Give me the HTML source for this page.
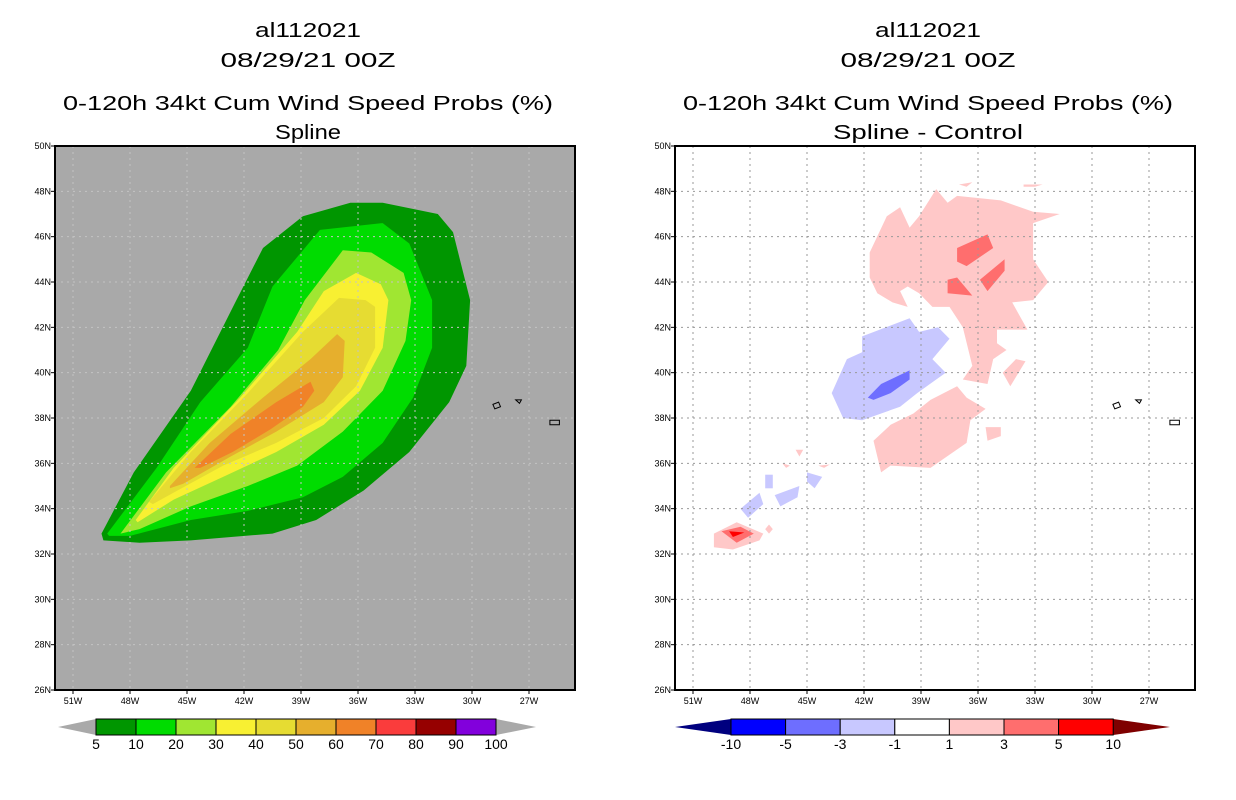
<!DOCTYPE html>
<html><head><meta charset="utf-8"><style>
html,body{margin:0;padding:0;background:#fff}
svg{display:block;font-family:"Liberation Sans",sans-serif}
</style></head><body>
<svg id="c" width="1236" height="800" viewBox="0 0 1236 800"></svg>
<script>
// ---- data (lon, lat in degrees) ----
const lonTicks=[-51,-48,-45,-42,-39,-36,-33,-30,-27];
const latTicks=[26,28,30,32,34,36,38,40,42,44,46,48,50];
const probLevels=["5","10","20","30","40","50","60","70","80","90","100"];
const probColors=["#009600","#00dc00","#a0e632","#f8f032","#e6dc32","#e6af2d","#f08228","#fa3c3c","#960000","#8200dc"];
const diffLevels=["-10","-5","-3","-1","1","3","5","10"];
const diffColors=["#0000ff","#6e6eff","#c8c8ff","#ffffff","#ffc8c8","#ff6e6e","#ff0000"];
const prob5=[[-49.5,32.9],[-47.8,35.6],[-44.8,39.2],[-42.4,43.2],[-41.0,45.5],[-38.9,46.9],[-36.4,47.5],[-34.7,47.5],[-31.8,47.0],[-31.0,46.2],[-30.1,43.2],[-30.3,40.3],[-31.2,38.7],[-33.3,36.5],[-35.7,34.8],[-38.2,33.5],[-40.5,32.9],[-44.8,32.6],[-47.5,32.5],[-49.4,32.6]];
const prob10=[[-49.2,32.9],[-46.6,35.8],[-44.3,38.7],[-41.8,41.1],[-40.5,43.8],[-38.0,46.3],[-34.7,46.6],[-33.3,45.7],[-32.1,43.2],[-32.1,41.1],[-33.1,38.9],[-34.7,36.9],[-36.8,35.4],[-38.9,34.5],[-41.8,33.9],[-44.8,33.5],[-48.0,32.8],[-49.1,32.8]];
const prob20=[[-48.5,32.9],[-46.1,35.6],[-42.7,38.5],[-40.2,41.0],[-38.8,43.2],[-36.8,45.4],[-35.3,45.3],[-33.6,44.4],[-33.2,43.2],[-33.5,41.4],[-34.7,39.2],[-36.8,37.4],[-39.2,35.9],[-41.8,35.0],[-44.8,34.1],[-47.5,33.1]];
const prob30=[[-47.7,33.5],[-45.7,35.8],[-42.2,38.9],[-39.2,41.8],[-37.8,43.6],[-36.1,44.4],[-34.8,43.9],[-34.4,43.2],[-34.7,41.1],[-35.9,39.2],[-37.8,37.7],[-40.3,36.5],[-43.1,35.4],[-45.7,34.4],[-47.6,33.4]];
const prob40=[[-47.0,34.3],[-44.8,36.5],[-41.8,39.1],[-38.9,41.8],[-37.0,43.3],[-35.6,43.2],[-35.1,42.9],[-35.1,41.1],[-36.1,39.4],[-37.8,38.0],[-40.3,36.9],[-43.1,35.9],[-45.5,34.8],[-46.8,34.2]];
const prob50=[[-45.9,35.0],[-43.8,36.9],[-41.0,38.9],[-38.5,40.6],[-37.1,41.7],[-36.7,41.4],[-36.8,39.8],[-37.8,38.7],[-40.3,37.4],[-42.7,36.3],[-45.2,35.1],[-45.9,34.9]];
const prob60=[[-44.6,35.8],[-42.7,37.3],[-40.3,38.7],[-38.5,39.6],[-38.3,39.2],[-38.9,38.5],[-40.6,37.5],[-42.6,36.5],[-44.3,35.8]];
const pinkNorth=[[-41.7,45.3],[-40.8,46.9],[-40.1,47.3],[-39.6,46.4],[-39.1,46.9],[-38.2,48.1],[-37.6,47.5],[-37.1,47.8],[-34.8,47.6],[-33.1,47.1],[-31.7,47.0],[-33.1,46.6],[-33.1,45.0],[-32.3,44.0],[-33.1,43.2],[-34.2,43.1],[-33.4,41.9],[-35.0,41.9],[-35.0,41.3],[-34.5,41.0],[-35.2,40.6],[-35.5,39.5],[-36.8,39.7],[-36.3,40.3],[-36.8,42.0],[-37.5,42.9],[-38.4,42.9],[-39.1,43.5],[-39.7,43.8],[-40.1,43.6],[-39.7,42.9],[-40.5,43.1],[-41.3,43.5],[-41.7,44.2]];
const pinkSouth=[[-41.5,37.0],[-40.6,37.7],[-39.4,38.2],[-38.5,38.8],[-37.1,39.4],[-36.6,38.9],[-35.6,38.4],[-36.4,37.9],[-36.6,36.9],[-38.5,35.8],[-40.6,35.9],[-41.1,35.6],[-41.3,36.3]];
const pinkSmall1=[[-34.7,40.0],[-34.0,40.6],[-33.5,40.5],[-34.3,39.4]];
const pinkSmall2=[[-35.6,37.6],[-34.8,37.6],[-34.8,37.2],[-35.5,37.0]];
const pinkSmall3=[[-37.0,48.3],[-36.3,48.4],[-36.6,48.2]];
const pinkSmall4=[[-33.6,48.3],[-32.6,48.3],[-33.0,48.2],[-33.6,48.2]];
const pinkSW=[[-49.9,32.9],[-48.7,33.4],[-47.3,32.9],[-47.5,32.6],[-48.9,32.2],[-49.9,32.3]];
const redA=[[-37.1,45.5],[-35.5,46.1],[-35.2,45.5],[-36.6,44.7],[-37.1,44.9]];
const redB=[[-37.6,44.1],[-37.1,44.2],[-36.3,43.4],[-37.6,43.5]];
const redC=[[-35.9,44.1],[-34.6,45.0],[-34.6,44.5],[-35.5,43.6]];
const redSW=[[-49.5,33.0],[-48.5,33.2],[-47.8,32.9],[-48.7,32.5]];
const brightSW=[[-49.1,33.0],[-48.3,32.95],[-48.9,32.75]];
const blueMain=[[-42.1,41.6],[-39.6,42.4],[-39.1,41.8],[-38.1,42.0],[-37.5,41.5],[-38.4,40.6],[-37.7,40.0],[-39.2,39.1],[-40.1,38.5],[-42.1,37.9],[-43.1,38.0],[-43.7,39.1],[-42.9,40.6],[-42.1,40.9]];
const blueDark=[[-41.8,38.9],[-41.1,39.5],[-39.6,40.1],[-39.6,39.7],[-40.6,39.1],[-41.5,38.8]];
const blueS1=[[-45.0,35.6],[-44.2,35.4],[-44.6,34.9],[-45.0,35.2]];
const blueS2=[[-46.7,34.6],[-45.4,35.0],[-45.5,34.5],[-46.4,34.1]];
const blueS3=[[-47.2,35.5],[-46.8,35.5],[-46.8,34.9],[-47.2,34.9]];
const blueS4=[[-48.5,34.0],[-47.5,34.7],[-47.3,34.2],[-48.1,33.6]];
const pinkTiny=[[[-45.6,36.6],[-45.2,36.6],[-45.4,36.3]],[[-46.3,36.0],[-45.9,35.9],[-46.1,35.8]],[[-44.4,35.9],[-43.8,35.95],[-44.1,35.8]],[[-47.0,33.3],[-46.8,33.1],[-47.0,32.9],[-47.2,33.1]]];
const islands=[[[-28.9,38.6],[-28.6,38.7],[-28.5,38.5],[-28.8,38.4]],[[-27.7,38.8],[-27.4,38.8],[-27.5,38.65]],[[-25.9,37.9],[-25.4,37.9],[-25.4,37.7],[-25.9,37.7]]];

const NS="http://www.w3.org/2000/svg";
const svg=document.getElementById('c');
function el(tag,attrs,parent){const e=document.createElementNS(NS,tag);for(const k in attrs)e.setAttribute(k,attrs[k]);(parent||svg).appendChild(e);return e;}
function txt(s,x,y,size,anchor,parent){const t=el('text',{x:x,y:y,'font-size':size,'text-anchor':anchor||'middle',fill:'#000'},parent);t.textContent=s;return t;}
function wtxt(s,x,y,size,len,parent){const t=txt(s,x,y,size,'middle',parent);t.setAttribute('textLength',len);t.setAttribute('lengthAdjust','spacingAndGlyphs');return t;}
// axis functions
function X(lon,off){return 130+off+(lon+48)*19;}
function Y(lat){return 146+(50-lat)*22.667;}
function pts(poly,off){return poly.map(p=>X(p[0],off).toFixed(1)+','+Y(p[1]).toFixed(1)).join(' ');}

function panel(off,bg,title2,len2,name){
  const g=el('g',{});
  
  
  const x0=55+off,x1=575+off;
  const cp=el('clipPath',{id:'clip'+off},g);
  el('rect',{x:x0,y:146,width:x1-x0,height:544},cp);
  const bgR=el('rect',{x:x0,y:146,width:x1-x0,height:544,fill:bg},g);
  
  
  const inner=el('g',{'clip-path':'url(#clip'+off+')'},g);
  const cx=308+off;
  const t1=wtxt('al112021',cx,37,20,106,g);
  const t2=wtxt('08/29/21 00Z',cx,67,20,175,g);
  const t3=wtxt('0-120h 34kt Cum Wind Speed Probs (%)',cx,110,20,490,g);
  const t4=wtxt(title2,cx,139,20,len2,g);
  return {g,inner,x0,x1};
}
function grid(p,off,color){
  lonTicks.forEach(l=>{const x=X(l,off);const ln=el('line',{x1:x,y1:146,x2:x,y2:690,stroke:color,'stroke-width':1,'stroke-dasharray':'2,4'},p.inner);});
  latTicks.forEach(l=>{const y=Y(l);const ln=el('line',{x1:p.x0,y1:y,x2:p.x1,y2:y,stroke:color,'stroke-width':1,'stroke-dasharray':'2,4'},p.inner);});
}
function axes(p,off){
  el('rect',{x:p.x0,y:146,width:p.x1-p.x0,height:544,fill:'none',stroke:'#000','stroke-width':2},p.g);
  lonTicks.forEach(l=>{const x=X(l,off);el('line',{x1:x,y1:690,x2:x,y2:694,stroke:'#000'},p.g);const t=txt(Math.abs(l)+'W',x,704,9,'middle',p.g);});
  latTicks.forEach(l=>{const y=Y(l);el('line',{x1:p.x0-4,y1:y,x2:p.x0,y2:y,stroke:'#000'},p.g);const t=txt(l+'N',p.x0-4,y+3,9,'end',p.g);});
}
function fill(p,poly,off,color,name){const e=el('polygon',{points:pts(poly,off),fill:color},p.inner);}
function isl(p,off){islands.forEach(poly=>{const e=el('polygon',{points:pts(poly,off),fill:'none',stroke:'#000','stroke-width':1},p.inner);});}

// left panel
const L=panel(0,'#a9a9a9','Spline',66,'spline-panel');
[prob5,prob10,prob20,prob30,prob40,prob50,prob60].forEach((poly,i)=>fill(L,poly,0,probColors[i],'prob-contour-'+probLevels[i]));
grid(L,0,'#c4c4c4');isl(L,0);axes(L,0);

// right panel
const R=panel(620,'#ffffff','Spline - Control',190,'difference-panel');
const o=620;
[pinkNorth,pinkSouth,pinkSmall1,pinkSmall2,pinkSmall3,pinkSmall4,pinkSW].forEach(pp=>fill(R,pp,o,diffColors[4],'diff-contour-1-3'));
pinkTiny.forEach(pp=>fill(R,pp,o,diffColors[4],'diff-contour-1-3'));
[redA,redB,redC,redSW].forEach(pp=>fill(R,pp,o,diffColors[5],'diff-contour-3-5'));
fill(R,brightSW,o,diffColors[6],'diff-contour-5-10');
[blueMain,blueS1,blueS2,blueS3,blueS4].forEach(pp=>fill(R,pp,o,diffColors[2],'diff-contour-neg1-neg3'));
fill(R,blueDark,o,diffColors[1],'diff-contour-neg3-neg5');
grid(R,o,'#999');isl(R,o);axes(R,o);

// colorbars
function colorbar(x0,w,colors,labels,triL,triR,left,right,name){
  const g=el('g',{});
  
  
  const y0=719,h=16,ym=727,n=colors.length;
  el('polygon',{points:`${left},${ym} ${x0},${y0} ${x0},${y0+h}`,fill:triL},g);
  el('polygon',{points:`${x0+w*n},${y0} ${right},${ym} ${x0+w*n},${y0+h}`,fill:triR},g);
  colors.forEach((c,i)=>{const r=el('rect',{x:x0+i*w,y:y0,width:w,height:h,fill:c,stroke:'#000','stroke-width':1},g);});
  labels.forEach((s,i)=>{const t=txt(s,x0+i*w,749,14,'middle',g);});
}
colorbar(96,40,probColors,probLevels,'#a9a9a9','#a9a9a9',58,536,'probability-colorbar');
colorbar(731,54.6,diffColors,diffLevels,'#00007f','#7f0000',675,1170,'difference-colorbar');
</script>
</body></html>
